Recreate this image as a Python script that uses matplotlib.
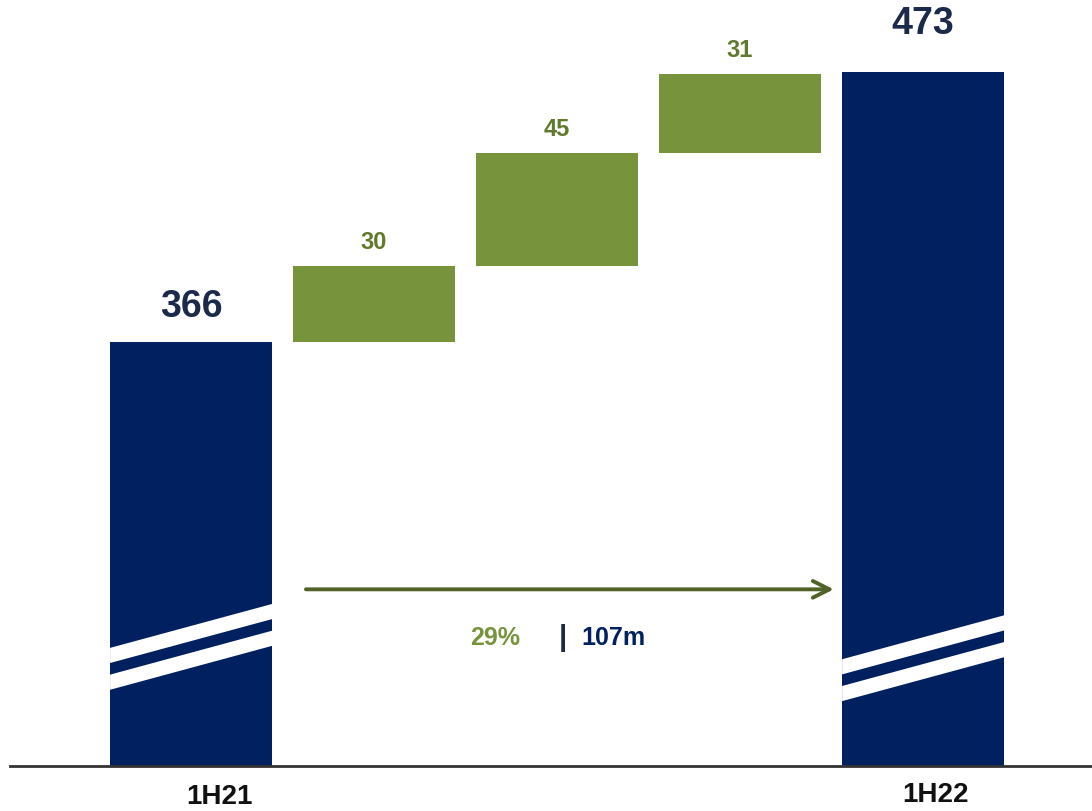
import numpy as np
import matplotlib
matplotlib.use("Agg")
import matplotlib.pyplot as plt
import matplotlib.transforms as mtrans

# data
totals_labels = ['1H21', '1H22']
start_value = 366
end_value = 473
steps = [30, 45, 31]
growth_pct = '29%'
growth_abs = '107m'

navy = '#00205F'
green = '#77933C'
green_txt = '#5F7A2A'
navy_txt = '#1B2A4A'
arrow_col = '#4F6228'

narrow = ['Liberation Sans Narrow', 'Liberation Sans', 'DejaVu Sans']

fig = plt.figure(figsize=(10.92, 8.11), dpi=100)
ax = fig.add_axes([0, 45 / 811, 1, 766 / 811])

n = len(steps) + 2
x = np.arange(n)
width = 0.885

# totals
ax.bar([x[0], x[-1]], [start_value, end_value], width=width, color=navy, zorder=2)
# steps
bottoms = start_value + np.concatenate([[0], np.cumsum(steps)[:-1]])
ax.bar(x[1:-1], steps, bottom=bottoms, width=width, color=green, zorder=2)

ax.set_xlim(-1.044, 4.923)
ax.set_ylim(198, 501.5)
for s in ax.spines.values():
    s.set_visible(False)
ax.set_xticks([])
ax.set_yticks([])

# axis break stripes on total bars
def stripes(xc, level):
    x0, x1 = xc - width / 2, xc + width / 2
    slope = 17.4
    for off in (5.0, -5.6):
        lo = level + off - 3.0
        hi = level + off + 3.0
        ax.fill([x0, x1, x1, x0], [lo - slope / 2, lo + slope / 2, hi + slope / 2, hi - slope / 2],
                color='white', lw=0, zorder=3)

stripes(x[0], 245.5)
stripes(x[-1], 241)

# value labels
ax.annotate(str(start_value), (x[0], start_value), xytext=(0, 17), textcoords='offset pixels',
            ha='center', va='bottom', fontsize=27, fontweight='bold', color=navy_txt, family=narrow)
ax.annotate(str(end_value), (x[-1], end_value), xytext=(0, 30), textcoords='offset pixels',
            ha='center', va='bottom', fontsize=27, fontweight='bold', color=navy_txt, family=narrow)
for xi, b, v in zip(x[1:-1], bottoms, steps):
    ax.annotate(str(v), (xi, b + v), xytext=(0, 12), textcoords='offset pixels',
                ha='center', va='bottom', fontsize=17, fontweight='bold', color=green_txt, family=narrow)

# baseline
ax.axhline(198, xmin=10 / 1092, color='#333333', lw=2, zorder=4, clip_on=False)

# growth arrow
ax.annotate('', xy=(x[-1] - width / 2 - 0.03, 268), xytext=(x[0] + width / 2 + 0.17, 268),
            arrowprops=dict(arrowstyle='->', color=arrow_col, lw=2.8, mutation_scale=30))
ax.text(1.661, 248.7, growth_pct, ha='center', va='center', fontsize=18, fontweight='bold',
        color=green, family=narrow)
ax.text(2.033, 248.7, '|', ha='center', va='center', fontsize=21, fontweight='bold',
        color=navy_txt, family=narrow)
ax.text(2.306, 248.7, growth_abs, ha='center', va='center', fontsize=18, fontweight='bold',
        color=navy, family=narrow)

# category labels
tr = mtrans.blended_transform_factory(ax.transData, fig.transFigure)
ax.text(x[0] + 0.153, 1 - 797 / 811, totals_labels[0], transform=tr, ha='center', va='center',
        fontsize=20, fontweight='bold', color='#111111', family='Liberation Sans')
ax.text(x[-1] + 0.066, 1 - 795 / 811, totals_labels[1], transform=tr, ha='center', va='center',
        fontsize=20, fontweight='bold', color='#111111', family='Liberation Sans')

plt.savefig('out.png', dpi=100)
